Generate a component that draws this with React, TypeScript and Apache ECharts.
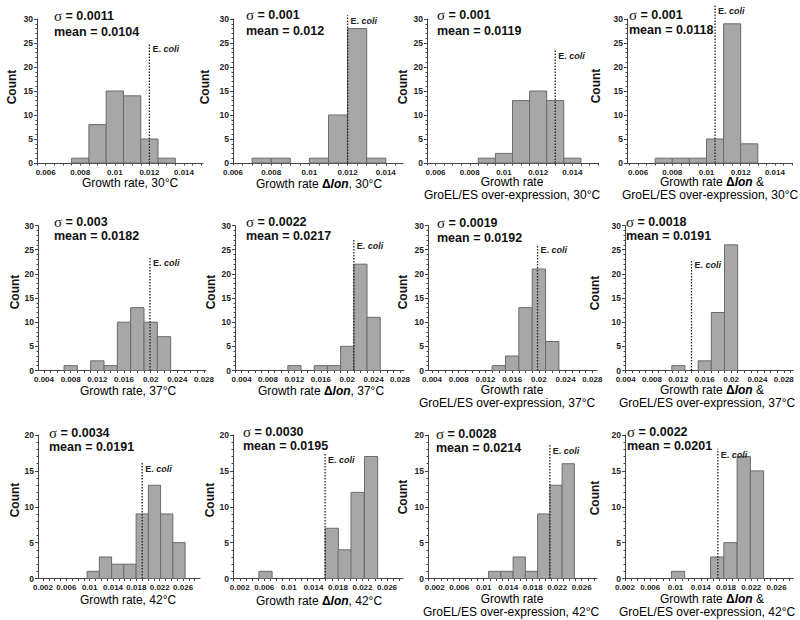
import React, { useEffect, useRef } from "react";
import * as echarts from "echarts";

// ---------------- DATA ----------------
const ticks30 = [0.006, 0.008, 0.01, 0.012, 0.014];
const ticks37 = [0.004, 0.008, 0.012, 0.016, 0.02, 0.024, 0.028];
const ticks42 = [0.002, 0.006, 0.01, 0.014, 0.018, 0.022, 0.026];

// 30°C
const wt30Centers = [0.008, 0.009, 0.010, 0.011, 0.012, 0.013];
const wt30Counts = [1, 8, 15, 14, 5, 1];
const lon30Centers = [0.0075, 0.0085, 0.0105, 0.0115, 0.0125, 0.0135];
const lon30Counts = [1, 1, 1, 10, 28, 1];
const gro30Centers = [0.009, 0.010, 0.011, 0.012, 0.013, 0.014];
const gro30Counts = [1, 2, 13, 15, 13, 1];
const lonGro30Centers = [0.0075, 0.0085, 0.0095, 0.0105, 0.0115, 0.0125];
const lonGro30Counts = [1, 1, 1, 5, 29, 4];
// 37°C
const wt37Centers = [0.008, 0.012, 0.014, 0.016, 0.018, 0.020, 0.022];
const wt37Counts = [1, 2, 1, 10, 13, 10, 7];
const lon37Centers = [0.012, 0.016, 0.018, 0.020, 0.022, 0.024];
const lon37Counts = [1, 1, 1, 5, 22, 11];
const gro37Centers = [0.014, 0.016, 0.018, 0.020, 0.022];
const gro37Counts = [1, 3, 13, 21, 6];
const lonGro37Centers = [0.012, 0.016, 0.018, 0.020];
const lonGro37Counts = [1, 2, 12, 26];
// 42°C
const wt42Centers = [0.0106, 0.0127, 0.0148, 0.0169, 0.0190, 0.0211, 0.0232, 0.0253];
const wt42Counts = [1, 3, 2, 2, 9, 13, 9, 5];
const lon42Centers = [0.0062, 0.0170, 0.0191, 0.0212, 0.0234];
const lon42Counts = [1, 7, 4, 12, 17];
const gro42Centers = [0.0118, 0.0138, 0.0158, 0.0178, 0.0198, 0.0218, 0.0238];
const gro42Counts = [1, 1, 3, 1, 9, 13, 16];
const lonGro42Centers = [0.0104, 0.0166, 0.0187, 0.0208, 0.0229];
const lonGro42Counts = [1, 3, 5, 17, 15];

const binWidths = [0.001, 0.001, 0.001, 0.001, 0.002, 0.002, 0.002, 0.002, 0.0021, 0.00215, 0.002, 0.0021];
const eColiRates = [0.012, 0.012, 0.013, 0.0105, 0.0199, 0.021, 0.0198, 0.014, 0.019, 0.0159, 0.0208, 0.0167];
const sigmas = ["0.0011", "0.001", "0.001", "0.001", "0.003", "0.0022", "0.0019", "0.0018", "0.0034", "0.0030", "0.0028", "0.0022"];
const means = ["0.0104", "0.012", "0.0119", "0.0118", "0.0182", "0.0217", "0.0192", "0.0191", "0.0191", "0.0195", "0.0214", "0.0201"];
const titles: string[][] = [
  ["Growth rate, 30°C"],
  ["Growth rate Δlon, 30°C"],
  ["Growth rate", "GroEL/ES over-expression, 30°C"],
  ["Growth rate Δlon &", "GroEL/ES over-expression, 30°C"],
  ["Growth rate, 37°C"],
  ["Growth rate Δlon, 37°C"],
  ["Growth rate", "GroEL/ES over-expression, 37°C"],
  ["Growth rate Δlon &", "GroEL/ES over-expression, 37°C"],
  ["Growth rate, 42°C"],
  ["Growth rate Δlon, 42°C"],
  ["Growth rate", "GroEL/ES over-expression, 42°C"],
  ["Growth rate Δlon &", "GroEL/ES over-expression, 42°C"],
];

const allCenters = [wt30Centers, lon30Centers, gro30Centers, lonGro30Centers, wt37Centers, lon37Centers, gro37Centers, lonGro37Centers, wt42Centers, lon42Centers, gro42Centers, lonGro42Centers];
const allCounts = [wt30Counts, lon30Counts, gro30Counts, lonGro30Counts, wt37Counts, lon37Counts, gro37Counts, lonGro37Counts, wt42Counts, lon42Counts, gro42Counts, lonGro42Counts];
const allTicks = [ticks30, ticks30, ticks30, ticks30, ticks37, ticks37, ticks37, ticks37, ticks42, ticks42, ticks42, ticks42];
const yMaxes = [30, 30, 30, 30, 30, 30, 30, 30, 20, 20, 20, 20];

// ---------------- LAYOUT ----------------
type L = { left: number; right: number; top: number; bottom: number; xMin: number; xMax: number; eTop: number; titlePos: number[][]; count: number[]; stats: number[] };
const layout: L[] = [
  { left: 37, right: 203, top: 19, bottom: 163, xMin: 0.0055, xMax: 0.0151, eTop: 25, titlePos: [[130, 183]], count: [12, 87], stats: [54, 16, 32] },
  { left: 233, right: 403, top: 19, bottom: 163, xMin: 0.006, xMax: 0.0149, eTop: 30.8, titlePos: [[319, 184]], count: [205, 87], stats: [246, 15, 31] },
  { left: 427, right: 598, top: 19, bottom: 163, xMin: 0.0055, xMax: 0.0155, eTop: 23.5, titlePos: [[512, 182], [512, 195]], count: [403, 87], stats: [437, 15, 31] },
  { left: 627, right: 792, top: 19, bottom: 163, xMin: 0.00535, xMax: 0.015, eTop: 32.9, titlePos: [[712, 182], [710, 195]], count: [596, 86], stats: [629, 15, 30] },
  { left: 38, right: 206, top: 225.5, bottom: 370.5, xMin: 0.0031, xMax: 0.0283, eTop: 23.4, titlePos: [[128, 391]], count: [15, 292], stats: [54, 222, 236] },
  { left: 235, right: 404, top: 225.5, bottom: 370.5, xMin: 0.003, xMax: 0.0286, eTop: 27.1, titlePos: [[321, 391]], count: [211, 292], stats: [246, 222, 236] },
  { left: 428, right: 597, top: 225.5, bottom: 370.5, xMin: 0.0034, xMax: 0.0287, eTop: 26.1, titlePos: [[512, 390], [507, 403]], count: [403, 292], stats: [437, 223, 238] },
  { left: 625, right: 793, top: 225.5, bottom: 370.5, xMin: 0.0039, xMax: 0.0294, eTop: 23.0, titlePos: [[712, 390], [707, 403]], count: [595, 293], stats: [626, 222, 236] },
  { left: 38, right: 200, top: 435, bottom: 578.5, xMin: 0.00114, xMax: 0.0289, eTop: 16.1, titlePos: [[128, 600]], count: [15, 500], stats: [49, 433, 447] },
  { left: 233, right: 403, top: 435, bottom: 578.5, xMin: 0.0009, xMax: 0.0286, eTop: 17.4, titlePos: [[319, 601]], count: [210, 500], stats: [243, 432, 446] },
  { left: 428, right: 597, top: 435, bottom: 578.5, xMin: 0.0009, xMax: 0.0285, eTop: 18.6, titlePos: [[512, 599], [511, 612]], count: [403, 497], stats: [436, 434, 448] },
  { left: 625, right: 793, top: 435, bottom: 578.5, xMin: 0.002, xMax: 0.0286, eTop: 18.1, titlePos: [[712, 599], [707, 612]], count: [595, 498], stats: [627, 432, 446] },
];

const SANS = '"Liberation Sans", Arial, Helvetica, sans-serif';
const SERIF = '"Liberation Serif", "DejaVu Serif", serif';
const AX = "#444";
const TF = 12;

function richTitle(s: string) {
  let out = "{n|" + s + "}";
  out = out.replace("Δlon", "}{d|Δ}{i|lon}{n|");
  out = out.replace(/\{n\|\}/g, "");
  return out;
}

function fmt(v: number) {
  return String(+v.toFixed(4));
}

function minorTicks(ticks: number[], min: number, max: number) {
  const step = (ticks[1] - ticks[0]) / 4;
  const out: number[] = [];
  for (let k = -40; k < 80; k++) {
    const v = ticks[0] + k * step;
    if (v >= min - 1e-9 && v <= max + 1e-9) out.push(+v.toFixed(6));
  }
  return out;
}

function buildOption() {
  const grid: any[] = [];
  const xAxis: any[] = [];
  const yAxis: any[] = [];
  const series: any[] = [];
  const graphic: any[] = [];

  layout.forEach((p, i) => {
    grid.push({ left: p.left, top: p.top, width: p.right - p.left, height: p.bottom - p.top, containLabel: false, outerBoundsMode: "none" });
    xAxis.push({
      type: "value", gridIndex: i, min: p.xMin, max: p.xMax,
      axisLine: { show: true, onZero: false, lineStyle: { color: AX, width: 1 } },
      axisTick: { show: true, customValues: minorTicks(allTicks[i], p.xMin, p.xMax), length: 2.5, lineStyle: { color: AX } },
      axisLabel: { customValues: allTicks[i], formatter: (v: number) => fmt(v), fontSize: 8, fontWeight: "bold", color: "#222", margin: 5, fontFamily: SANS },
      splitLine: { show: false },
    });
    yAxis.push({
      type: "value", gridIndex: i, min: 0, max: yMaxes[i], interval: 5,
      axisLine: { show: true, onZero: false, lineStyle: { color: AX, width: 1 } },
      axisTick: { show: true, length: 3, lineStyle: { color: AX } },
      minorTick: { show: true, splitNumber: 5, length: 1.5, lineStyle: { color: AX } },
      axisLabel: { fontSize: 8.5, fontWeight: "bold", color: "#222", margin: 4, fontFamily: SANS },
      splitLine: { show: false },
    });
    const w = binWidths[i];
    series.push({
      type: "custom", xAxisIndex: i, yAxisIndex: i,
      data: allCenters[i].map((c, k) => [c, allCounts[i][k]]),
      encode: { x: 0, y: 1 },
      renderItem: (_params: any, api: any) => {
        const c = api.value(0);
        const n = api.value(1);
        const a = api.coord([c - w / 2, n]);
        const b = api.coord([c + w / 2, 0]);
        return {
          type: "rect",
          shape: { x: a[0], y: a[1], width: b[0] - a[0], height: b[1] - a[1] },
          style: { fill: "#a7a7a7", stroke: "#6b6b6b", lineWidth: 1 },
        };
      },
    });
    series.push({
      type: "custom", xAxisIndex: i, yAxisIndex: i, clip: false, z: 5,
      data: [[eColiRates[i], p.eTop]],
      encode: { x: 0, y: 1 },
      renderItem: (_params: any, api: any) => {
        const x = api.value(0);
        const t = api.value(1);
        const a = api.coord([x, 0]);
        const b = api.coord([x, t]);
        return {
          type: "group",
          children: [
            { type: "line", shape: { x1: a[0], y1: a[1], x2: b[0], y2: b[1] }, style: { stroke: "#222", lineWidth: 1.3, lineDash: [1.5, 1.5] } },
            {
              type: "text", x: b[0] + 3, y: b[1] + 6,
              style: {
                text: "{n|E. }{i|coli}", verticalAlign: "middle", align: "left",
                rich: {
                  n: { fontSize: 9, fontFamily: SANS, fill: "#222", fontWeight: "bold" },
                  i: { fontSize: 9, fontFamily: SANS, fill: "#222", fontStyle: "italic", fontWeight: "bold" },
                },
              },
            },
          ],
        };
      },
    });

    graphic.push({
      type: "text", x: p.stats[0], y: p.stats[1],
      style: {
        text: "{s|σ}{b| = " + sigmas[i] + "}", verticalAlign: "middle", align: "left",
        rich: {
          s: { fontSize: 15, fontFamily: SERIF, fill: "#111" },
          b: { fontSize: 12.5, fontFamily: SANS, fontWeight: "bold", fill: "#111" },
        },
      },
    });
    graphic.push({
      type: "text", x: p.stats[0], y: p.stats[2],
      style: { text: "mean = " + means[i], verticalAlign: "middle", align: "left", fontSize: 12.5, fontFamily: SANS, fontWeight: "bold", fill: "#111" },
    });
    titles[i].forEach((t, k) => {
      const pos = p.titlePos[k];
      graphic.push({
        type: "text", x: pos[0], y: pos[1],
        style: {
          text: richTitle(t), align: "center", verticalAlign: "middle",
          rich: {
            n: { fontSize: TF, fontFamily: SANS, fill: "#000", lineHeight: 12 },
            d: { fontSize: TF, fontFamily: SANS, fill: "#000", fontWeight: "bold", lineHeight: 12 },
            i: { fontSize: TF, fontFamily: SANS, fill: "#000", fontWeight: "bold", fontStyle: "italic", lineHeight: 12 },
          },
        },
      });
    });
    graphic.push({
      type: "text", x: p.count[0], y: p.count[1], rotation: Math.PI / 2,
      style: { text: "Count", align: "center", verticalAlign: "middle", fontSize: 12, fontWeight: "bold", fontFamily: SANS, fill: "#111" },
    });
  });

  return { animation: false, backgroundColor: "#fff", grid, xAxis, yAxis, series, graphic };
}

export default function App() {
  const ref = useRef<HTMLDivElement>(null);
  useEffect(() => {
    if (!ref.current) return;
    const chart = echarts.init(ref.current, undefined, { renderer: "svg" });
    chart.setOption(buildOption() as any);
    return () => chart.dispose();
  }, []);
  return <div ref={ref} style={{ position: "absolute", left: 0, top: 0, width: 800, height: 620, background: "#fff" }} />;
}
